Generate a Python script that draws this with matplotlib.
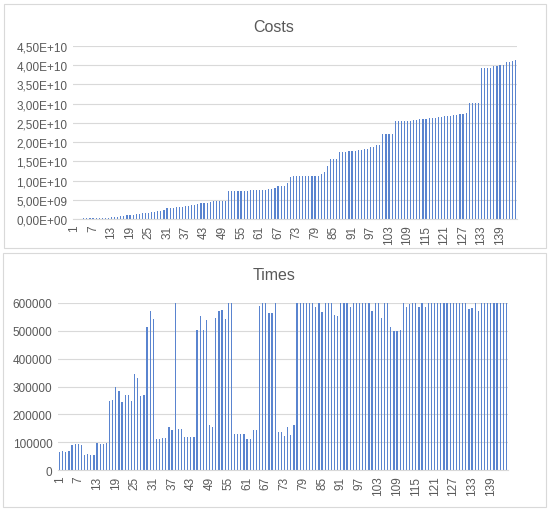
import numpy as np
import matplotlib
matplotlib.use("Agg")
import matplotlib.pyplot as plt
from matplotlib.patches import Rectangle
from matplotlib.ticker import FuncFormatter, MultipleLocator

# ========== DATA ==========
# costs per run, in units of 1e9
costs_e9 = [
    0.05, 0.05, 0.1, 0.3, 0.35, 0.35, 0.35, 0.35, 0.35, 0.35,
    0.35, 0.35, 0.4, 0.45, 0.6, 0.7, 0.8, 0.95, 1.0, 1.1,
    1.2, 1.4, 1.45, 1.5, 1.6, 1.7, 1.8, 2.0, 2.2, 2.4,
    2.9, 2.95, 2.95, 3.0, 3.0, 3.0, 3.4, 3.5, 3.6, 3.7,
    3.8, 4.2, 4.2, 4.2, 4.3, 4.6, 4.7, 4.7, 4.75, 4.8,
    7.2, 7.25, 7.25, 7.3, 7.3, 7.35, 7.4, 7.45, 7.45, 7.45,
    7.5, 7.5, 7.6, 7.7, 7.8, 8.0, 8.5, 8.5, 8.6, 9.3,
    11.0, 11.1, 11.1, 11.1, 11.1, 11.15, 11.15, 11.2, 11.2, 11.3,
    11.6, 12.1, 13.9, 15.5, 15.6, 15.6, 17.4, 17.4, 17.5, 17.6,
    17.7, 17.8, 17.9, 18.0, 18.1, 18.1, 18.7, 18.8, 19.2, 19.3,
    22.0, 22.0, 22.0, 22.1, 25.5, 25.5, 25.6, 25.6, 25.6, 25.6,
    25.7, 25.7, 25.9, 26.0, 26.0, 26.2, 26.2, 26.3, 26.5, 26.5,
    26.7, 26.8, 26.9, 27.0, 27.1, 27.2, 27.4, 27.5, 30.1, 30.1,
    30.1, 30.1, 39.3, 39.3, 39.3, 39.3, 39.7, 39.8, 40.0, 40.0,
    40.8, 40.9, 41.2, 41.4,
]

# times per run, in thousands
times_k = [
    66, 67, 65, 67, 90, 93, 93, 90, 55, 56,
    53, 53, 97, 93, 94, 97, 248, 251, 300, 283,
    245, 268, 268, 248, 346, 332, 266, 271, 514, 570,
    544, 110, 111, 115, 115, 155, 143, 606, 147, 147,
    118, 119, 117, 117, 504, 553, 502, 540, 161, 154,
    546, 573, 576, 544, 600, 600, 129, 129, 129, 129,
    113, 113, 145, 145, 591, 600, 600, 565, 565, 600,
    137, 137, 123, 153, 124, 161, 600, 600, 600, 600,
    600, 600, 585, 600, 567, 600, 600, 600, 557, 555,
    600, 600, 600, 585, 600, 600, 600, 600, 600, 600,
    572, 600, 600, 545, 600, 600, 512, 500, 500, 503,
    600, 585, 598, 600, 600, 585, 600, 585, 600, 600,
    600, 600, 600, 600, 600, 600, 600, 600, 600, 600,
    600, 578, 581, 600, 570, 600, 600, 600, 600, 600,
    600, 600, 600, 600,
]

costs = np.array(costs_e9) * 1e9
times = np.array(times_k) * 1000
runs = np.arange(1, len(costs) + 1)
label_runs = runs[::6]

BAR_COLOR = "#5a84cf"
GRID_COLOR = "#d9d9d9"
TEXT_COLOR = "#595959"
plt.rcParams['font.family'] = ['Liberation Sans', 'DejaVu Sans']

W, H = 548, 510
fig = plt.figure(figsize=(W / 100, H / 100), dpi=100)

# chart frames (Excel-like chart areas)
for (x0, y0, x1, y1) in [(4, 5, 546, 249), (3, 254, 546, 508)]:
    fig.patches.append(Rectangle((x0 / W, 1 - y1 / H), (x1 - x0) / W, (y1 - y0) / H,
                                 transform=fig.transFigure, fill=False,
                                 edgecolor="#d9d9d9", linewidth=0.8))


def sci_comma(v, pos):
    s = "%.2E" % v
    mant, exp = s.split("E")
    return mant.replace(".", ",") + "E" + exp


def style_axes(ax):
    for side in ["top", "right", "left"]:
        ax.spines[side].set_visible(False)
    ax.spines["bottom"].set_color(GRID_COLOR)
    ax.grid(axis="y", color=GRID_COLOR, linewidth=0.8)
    ax.set_axisbelow(True)
    ax.tick_params(length=0, colors=TEXT_COLOR, labelsize=8.5, pad=4)
    ax.set_xlim(0.5, len(runs) + 0.5)
    ax.set_xticks(label_runs)
    ax.set_xticklabels([str(r) for r in label_runs], rotation=90)


# ========== COSTS ==========
ax1 = fig.add_axes([73 / W, 1 - 220 / H, (517 - 73) / W, (220 - 47) / H])
ax1.bar(runs, costs, width=0.4, color=BAR_COLOR, linewidth=0)
ax1.set_ylim(0, 4.5e10)
ax1.yaxis.set_major_locator(MultipleLocator(5e9))
ax1.yaxis.set_major_formatter(FuncFormatter(sci_comma))
style_axes(ax1)
fig.text(0.5, 1 - 27 / H, "Costs", ha="center", va="center", fontsize=11.5, color=TEXT_COLOR)

# ========== TIMES ==========
ax2 = fig.add_axes([58 / W, 1 - 471 / H, (508 - 58) / W, (471 - 304) / H])
ax2.bar(runs, times, width=0.4, color=BAR_COLOR, linewidth=0)
ax2.set_ylim(0, 600000)
ax2.yaxis.set_major_locator(MultipleLocator(100000))
ax2.yaxis.set_major_formatter(FuncFormatter(lambda v, p: "%d" % v))
style_axes(ax2)
fig.text(0.5, 1 - 276 / H, "Times", ha="center", va="center", fontsize=11.5, color=TEXT_COLOR)

fig.savefig("out.png", dpi=100)
